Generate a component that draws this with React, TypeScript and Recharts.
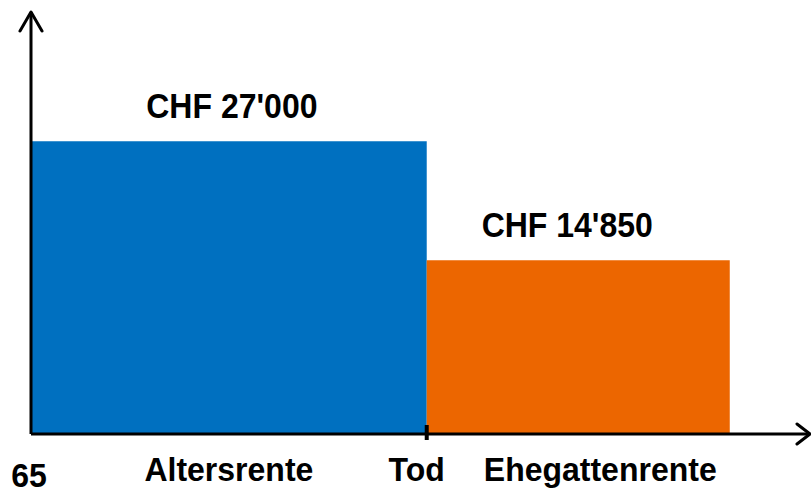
import React from 'react';
import { ComposedChart, XAxis, YAxis, ReferenceArea } from 'recharts';

// Rentenphasen: von 65 bis Tod (Altersrente), danach Ehegattenrente
const phaseStart = [0, 50.8];
const phaseEnd = [50.8, 89.7];
const renten = [27000, 14850];
const rentenLabels = ["CHF 27'000", "CHF 14'850"];
const tickLabels = ['65', 'Altersrente', 'Tod', 'Ehegattenrente'];

const colors = ['#0070C0', '#EC6600'];
// schematic picture: baseline is not at 0
const yDomain = [-2900, 40200];
const xDomain = [0, 100];

const tickValues = [
  phaseStart[0],
  (phaseStart[0] + phaseEnd[0]) / 2,
  phaseEnd[0],
  (phaseStart[1] + phaseEnd[1]) / 2,
];
const tickShift = [-2, 0, -10, 22];
const labelShift = [3, -11];

const font = '"Liberation Sans", Arial, sans-serif';

const AxisTick = (props: any) => {
  const { x, y, index } = props;
  const text = tickLabels[index];
  const isTod = text === 'Tod';
  const down = text === '65' ? 53 : 47;
  return (
    <g>
      {isTod && <line x1={x} x2={x} y1={y - 9} y2={y + 6} stroke="#000" strokeWidth={4} />}
      <text
        transform={`translate(${x + tickShift[index]},${y + down}) scale(1,1.06)`}
        textAnchor="middle"
        fontFamily={font}
        fontWeight="bold"
        fontSize={32}
        fill="#000"
      >
        {text}
      </text>
    </g>
  );
};

const barLabel = (i: number) => (props: any) => {
  const vb = props.viewBox || {};
  const cx = vb.x + vb.width / 2 + labelShift[i];
  const by = vb.y - 23;
  return (
    <text
      transform={`translate(${cx},${by}) scale(1,1.08)`}
      textAnchor="middle"
      fontFamily={font}
      fontWeight="bold"
      fontSize={32}
      fill="#000"
    >
      {rentenLabels[i]}
    </text>
  );
};

export default function App() {
  return (
    <div style={{ position: 'absolute', left: 0, top: 0, background: '#fff' }}>
      <ComposedChart width={811} height={494} margin={{ top: 12, right: 1, left: 0, bottom: 0 }}>
        <defs>
          <marker id="arrowY" viewBox="-22 -14 24 28" refX={0} refY={0} markerWidth={24} markerHeight={28}
            markerUnits="userSpaceOnUse" orient="auto-start-reverse">
            <path d="M -19 -11 L 0 0 L -19 11" fill="none" stroke="#000" strokeWidth={3} strokeLinecap="round" strokeLinejoin="round" />
          </marker>
          <marker id="arrowX" viewBox="-16 -13 18 26" refX={0} refY={0} markerWidth={18} markerHeight={26}
            markerUnits="userSpaceOnUse" orient="auto">
            <path d="M -13 -10 L 0 0 L -13 10" fill="none" stroke="#000" strokeWidth={3} strokeLinecap="round" strokeLinejoin="round" />
          </marker>
        </defs>
        {renten.map((v, i) => (
          <ReferenceArea
            key={i}
            x1={phaseStart[i]}
            x2={phaseEnd[i]}
            y1={yDomain[0]}
            y2={v}
            fill={colors[i]}
            fillOpacity={1}
            stroke="none"
            ifOverflow="visible"
            label={barLabel(i)}
          />
        ))}
        <XAxis
          type="number"
          dataKey="x"
          domain={xDomain}
          ticks={tickValues}
          interval={0}
          height={60}
          tickSize={0}
          tickMargin={0}
          tickLine={false}
          tick={<AxisTick />}
          axisLine={{ stroke: '#000', strokeWidth: 3, markerEnd: 'url(#arrowX)' }}
          allowDataOverflow
        />
        <YAxis
          type="number"
          domain={yDomain}
          width={31}
          tick={false}
          tickLine={false}
          axisLine={{ stroke: '#000', strokeWidth: 3, markerStart: 'url(#arrowY)' }}
          allowDataOverflow
        />
      </ComposedChart>
    </div>
  );
}
